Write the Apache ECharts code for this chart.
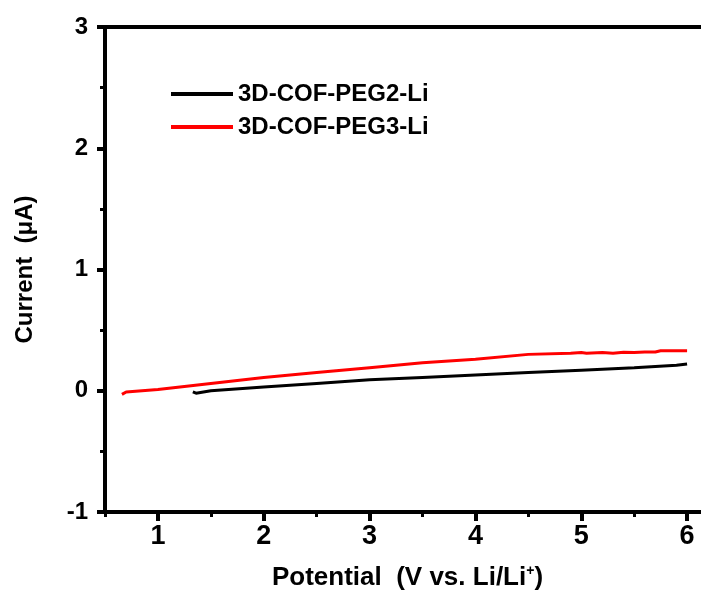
<!DOCTYPE html>
<html>
<head>
<meta charset="utf-8">
<script src="https://cdn.jsdelivr.net/npm/echarts@6/dist/echarts.min.js"></script>
<style>html,body{margin:0;padding:0;background:#fff;overflow:hidden}#c{width:701px;height:606px}</style>
</head>
<body>
<div id="c"></div>
<script>
var seriesNames = ['3D-COF-PEG2-Li', '3D-COF-PEG3-Li'];
var peg2X = [1.33, 1.36, 1.5, 2.0, 2.5, 3.0, 3.5, 4.0, 4.5, 5.0, 5.5, 5.9, 6.0];
var peg2Y = [-0.01, -0.02, 0.0, 0.03, 0.06, 0.09, 0.11, 0.13, 0.15, 0.17, 0.19, 0.21, 0.22];
var peg3X = [0.66, 0.7, 1.0, 1.5, 2.0, 2.5, 3.0, 3.5, 4.0, 4.5, 4.9, 5.0, 5.05, 5.2, 5.3, 5.4, 5.5, 5.6, 5.7, 5.75, 6.0];
var peg3Y = [-0.03, -0.01, 0.01, 0.06, 0.11, 0.15, 0.19, 0.23, 0.26, 0.30, 0.31, 0.315, 0.31, 0.315, 0.31, 0.318, 0.315, 0.32, 0.32, 0.33, 0.33];
var xMajorTicks = [1, 2, 3, 4, 5, 6];
var xMinorTicks = [0.5, 1.5, 2.5, 3.5, 4.5, 5.5];
var xTitle = 'Potential  (V vs. Li/Li{sup|+})';
var yTitle = 'Current  (\u03bcA)';

function pairs(xs, ys) { return xs.map(function (x, i) { return [x, ys[i]]; }); }

var font = 'Liberation Sans, Arial, sans-serif';
var chart = echarts.init(document.getElementById('c'));
chart.setOption({
  animation: false,
  backgroundColor: '#fff',
  grid: { left: 105, top: 27, right: -39, bottom: 94, show: false, outerBoundsMode: 'none', containLabel: false },
  legend: {
    orient: 'vertical', left: 166, top: 77, itemWidth: 62, itemHeight: 4, itemGap: 9,
    textStyle: { fontFamily: font, fontWeight: 'bold', fontSize: 24, color: '#000' },
    data: seriesNames.map(function (n) { return { name: n, icon: 'rect' }; })
  },
  xAxis: [{
    type: 'value', min: 0.5, max: 6.5, position: 'bottom',
    name: xTitle, nameLocation: 'middle', nameGap: 52,
    nameTextStyle: {
      fontFamily: font, fontWeight: 'bold', fontSize: 26, color: '#000', padding: [0, 30, 0, 0],
      rich: { sup: { fontFamily: font, fontWeight: 'bold', fontSize: 14, color: '#000', verticalAlign: 'top', padding: [0, 0, 14, 0] } }
    },
    axisLine: { onZero: false, lineStyle: { color: '#000', width: 4 } },
    axisTick: { show: true, inside: false, length: 9, lineStyle: { width: 4, color: '#000' }, customValues: xMajorTicks },
    axisLabel: { customValues: xMajorTicks, margin: 11, fontFamily: font, fontWeight: 'bold', fontSize: 27, color: '#000' },
    splitLine: { show: false }
  }, {
    type: 'value', min: 0.5, max: 6.5, position: 'bottom',
    axisLine: { show: false, onZero: false },
    axisTick: { show: true, inside: false, length: 5, lineStyle: { width: 3, color: '#000' }, customValues: xMinorTicks },
    axisLabel: { show: false },
    splitLine: { show: false }
  }, {
    type: 'value', min: 0.5, max: 6.5, position: 'top',
    axisLine: { show: true, onZero: false, lineStyle: { color: '#000', width: 4 } },
    axisTick: { show: false },
    axisLabel: { show: false },
    splitLine: { show: false }
  }],
  yAxis: {
    type: 'value', min: -1, max: 3, interval: 1,
    name: yTitle, nameLocation: 'middle', nameGap: 68, nameRotate: 90,
    nameTextStyle: { fontFamily: font, fontWeight: 'bold', fontSize: 24, color: '#000' },
    axisLine: { onZero: false, lineStyle: { color: '#000', width: 4 } },
    axisTick: { show: true, inside: false, length: 8, lineStyle: { width: 4, color: '#000' } },
    minorTick: { show: true, splitNumber: 2, length: 5, lineStyle: { width: 3, color: '#000' } },
    axisLabel: { margin: 17, fontFamily: font, fontWeight: 'bold', fontSize: 24, color: '#000' },
    splitLine: { show: false }
  },
  series: [
    { name: seriesNames[0], type: 'line', xAxisIndex: 0, data: pairs(peg2X, peg2Y), showSymbol: false, symbol: 'none',
      itemStyle: { color: '#000' }, lineStyle: { color: '#000', width: 3 } },
    { name: seriesNames[1], type: 'line', xAxisIndex: 0, data: pairs(peg3X, peg3Y), showSymbol: false, symbol: 'none',
      itemStyle: { color: '#ff0000' }, lineStyle: { color: '#ff0000', width: 3 } }
  ]
});
</script>
</body>
</html>
